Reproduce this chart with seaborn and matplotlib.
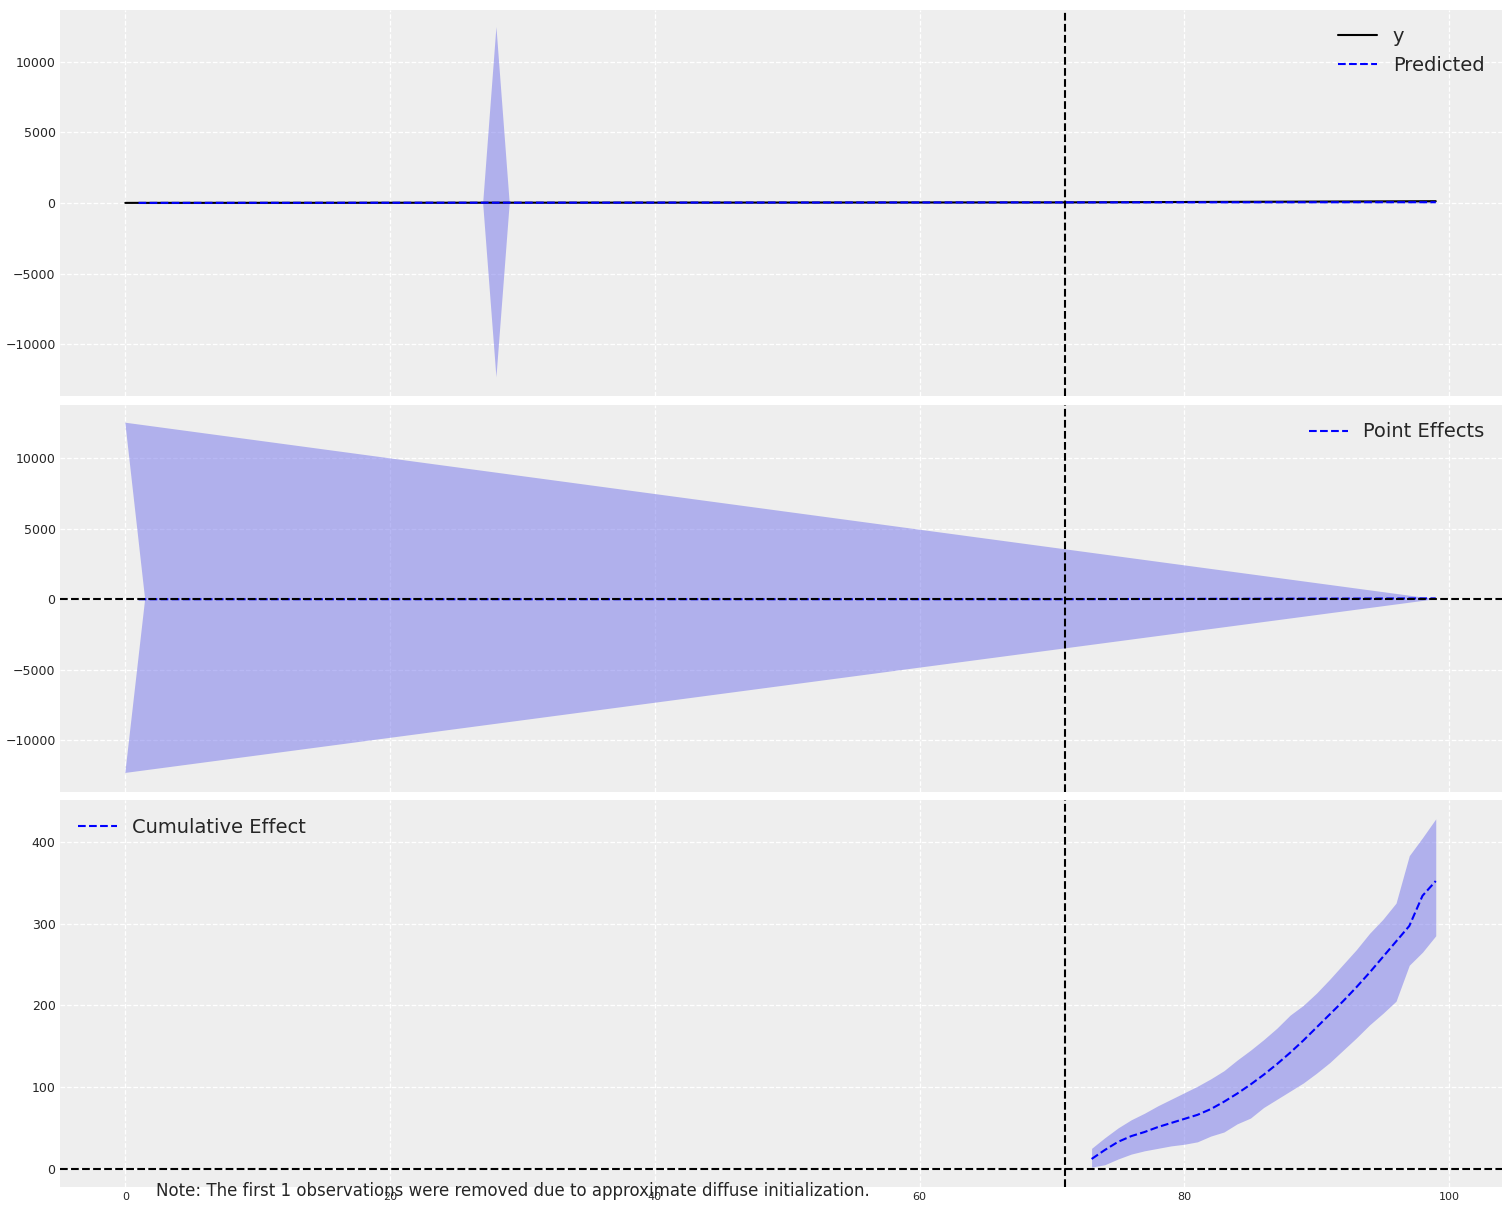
import numpy as np
import matplotlib
matplotlib.use("Agg")
import matplotlib.pyplot as plt
import seaborn as sns

# ---- data ----
intervention = 71
obs_x = list(range(0, 100))
obs_y = [10, 12, 11, 13, 12, 14, 13, 15, 14, 16, 15, 17, 16, 18, 17, 19, 18, 20, 19, 21,
         20, 22, 21, 23, 22, 24, 23, 25, 24, 26, 25, 27, 26, 28, 27, 29, 28, 30, 29, 31,
         30, 32, 31, 33, 32, 34, 33, 35, 34, 36, 35, 37, 36, 38, 37, 39, 38, 40, 39, 41,
         40, 42, 41, 43, 42, 44, 43, 45, 44, 46, 45, 47, 50, 53, 56, 59, 62, 65, 68, 71,
         74, 77, 80, 83, 86, 89, 92, 95, 98, 101, 104, 107, 110, 113, 116, 119, 122, 125, 128, 131]
pred_x = obs_x[1:]
pred_y = obs_y[1:72] + [47, 47, 48, 48, 49, 49, 50, 50, 51, 51, 52, 52, 53, 53, 54, 54,
                        55, 55, 56, 56, 57, 57, 58, 58, 59, 59, 60, 60]
top_band_x = [1, 27, 28, 29, 99]
top_band_upper = [60, 60, 12500, 60, 110]
top_band_lower = [-40, -30, -12300, -30, 10]

eff_band_x = [0, 99, 0, 1.5]
eff_band_y = [12500, 0, -12300, 0]
eff_x = pred_x
eff_y = [0] * 71 + [3, 6, 9, 12, 14, 16, 18, 20, 22, 24, 26, 28, 30, 32, 34, 36, 38, 40, 42,
                    44, 46, 48, 50, 52, 54, 56, 58, 60]

cum_x = list(range(73, 100))
cum_mean = [12, 23, 33, 40, 45, 51, 56, 61, 66, 73, 82, 92, 103, 115, 128, 142, 157, 173,
            189, 205, 222, 240, 259, 278, 297, 334, 352]
cum_upper = [25, 38, 50, 60, 68, 77, 85, 93, 101, 110, 120, 133, 145, 158, 172, 188, 200,
             215, 232, 250, 268, 288, 305, 325, 383, 405, 428]
cum_lower = [2, 5, 12, 18, 22, 25, 28, 30, 33, 40, 45, 55, 62, 75, 85, 95, 105, 117, 130,
             145, 160, 176, 190, 205, 249, 265, 285]
cum_mean = cum_mean[:24] + [316, 334, 352][-3:] if False else cum_mean

# ---- style ----
sns.set_theme(style="darkgrid")
plt.rcParams.update({
    "axes.facecolor": "#eeeeee",
    "grid.color": "white",
    "grid.linestyle": "--",
    "grid.linewidth": 0.9,
    "axes.edgecolor": "none",
    "xtick.labelsize": 8,
    "ytick.labelsize": 9,
})
plt.rcParams['font.family'] = ['DejaVu Sans']

fig, axes = plt.subplots(3, 1, figsize=(15.11, 12.11), dpi=100, sharex=True)
fig.subplots_adjust(left=0.04, right=0.994, top=0.992, bottom=0.02, hspace=0.022)
band_color = (0.45, 0.45, 0.92, 0.5)

ax = axes[0]
ax.fill_between(top_band_x, top_band_lower, top_band_upper, color=band_color, lw=0)
sns.lineplot(x=obs_x, y=obs_y, ax=ax, color="black", label="y")
sns.lineplot(x=pred_x, y=pred_y, ax=ax, color="blue", linestyle="--", label="Predicted")
ax.set_ylim(-13690, 13690)
ax.legend(loc="upper right", frameon=False, fontsize=14)

ax = axes[1]
ax.fill(eff_band_x, eff_band_y, color=band_color, lw=0)
sns.lineplot(x=eff_x, y=eff_y, ax=ax, color="blue", linestyle="--", label="Point Effects")
ax.axhline(0, color="black", linestyle="--", lw=1.5)
ax.set_ylim(-13620, 13760)
ax.legend(loc="upper right", frameon=False, fontsize=14)

ax = axes[2]
ax.fill_between(cum_x, cum_lower, cum_upper, color=band_color, lw=0)
sns.lineplot(x=cum_x, y=cum_mean, ax=ax, color="blue", linestyle="--", label="Cumulative Effect")
ax.axhline(0, color="black", linestyle="--", lw=1.5)
ax.set_ylim(-22, 451)
ax.legend(loc="upper left", frameon=False, fontsize=14)

for ax in axes:
    ax.axvline(intervention, color="black", linestyle="--", lw=1.5)
    ax.set_xlim(-4.9, 104)
    ax.set_xticks([0, 20, 40, 60, 80, 100])
    ax.tick_params(length=0)
    ax.set_xlabel("")
    ax.set_ylabel("")
axes[0].set_yticks([-10000, -5000, 0, 5000, 10000])
axes[1].set_yticks([-10000, -5000, 0, 5000, 10000])
axes[2].set_yticks([0, 100, 200, 300, 400])

fig.text(0.103, 0.012, "Note: The first 1 observations were removed due to approximate diffuse initialization.",
         fontsize=12)
fig.savefig("out.png", dpi=100)
